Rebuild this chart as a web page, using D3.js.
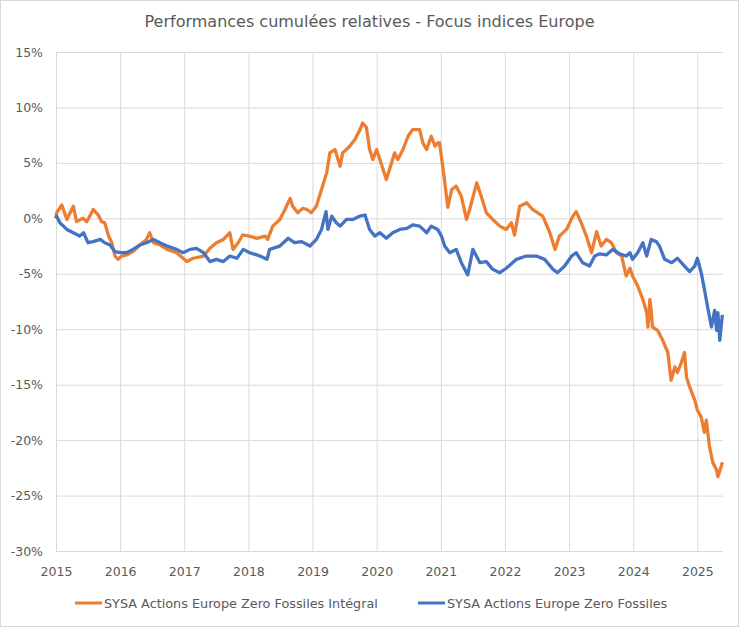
<!DOCTYPE html>
<html>
<head>
<meta charset="utf-8">
<script src="https://cdn.jsdelivr.net/npm/d3@7"></script>
<style>
  body { margin: 0; background: #fff; }
  svg { display: block; font-family: "DejaVu Sans", sans-serif; }
</style>
</head>
<body>
<div class="chart"></div>
<script>
// decimal years / cumulative relative performance in %
const integralYears = [2015.00,2015.01,2015.09,2015.17,2015.27,2015.32,2015.42,2015.48,2015.58,2015.66,2015.71,2015.76,2015.82,2015.87,2015.92,2015.97,
  2016.02,2016.10,2016.20,2016.31,2016.41,2016.46,2016.52,2016.62,2016.73,2016.88,2017.04,2017.14,2017.30,2017.40,2017.50,2017.61,2017.71,2017.76,2017.84,2017.91,
  2018.01,2018.13,2018.26,2018.30,2018.38,2018.49,2018.57,2018.65,2018.69,2018.77,2018.85,2018.91,2018.98,2019.06,2019.14,2019.22,2019.27,2019.35,2019.43,2019.47,
  2019.58,2019.66,2019.74,2019.78,2019.84,2019.89,2019.94,2020.00,2020.05,2020.15,2020.20,2020.28,2020.33,2020.41,2020.49,2020.56,2020.67,2020.72,2020.78,2020.85,
  2020.91,2020.95,2020.98,2021.03,2021.11,2021.17,2021.24,2021.32,2021.40,2021.45,2021.56,2021.63,2021.71,2021.81,2021.92,2022.02,2022.10,2022.15,2022.23,2022.34,
  2022.43,2022.59,2022.70,2022.78,2022.85,2022.96,2023.06,2023.11,2023.19,2023.27,2023.35,2023.43,2023.50,2023.58,2023.66,2023.74,2023.82,2023.89,2023.95,2023.99,
  2024.07,2024.15,2024.21,2024.23,2024.26,2024.28,2024.30,2024.38,2024.46,2024.54,2024.59,2024.65,2024.69,2024.75,2024.80,2024.83,2024.88,2024.96,2025.00,2025.06,
  2025.11,2025.14,2025.19,2025.24,2025.30,2025.32,2025.37,2025.39];
const integralValues = [0.0,0.5,1.2,-0.1,1.1,-0.3,0.0,-0.3,0.8,0.3,-0.3,-0.4,-1.6,-2.2,-3.4,-3.7,
  -3.4,-3.3,-3.0,-2.4,-1.9,-1.3,-2.2,-2.4,-2.8,-3.1,-3.9,-3.6,-3.4,-2.7,-2.2,-1.9,-1.3,-2.8,-2.2,-1.5,
  -1.6,-1.8,-1.6,-1.9,-0.7,-0.1,0.8,1.8,1.1,0.5,0.9,0.8,0.5,1.1,2.6,4.1,5.9,6.2,4.7,5.9,
  6.5,7.1,8.0,8.6,8.2,6.2,5.3,6.2,5.3,3.5,4.4,5.9,5.3,6.2,7.4,8.0,8.0,6.8,6.2,7.4,
  6.5,6.8,6.8,4.7,1.0,2.6,2.9,2.0,-0.1,0.8,3.2,2.0,0.5,-0.1,-0.7,-1.0,-0.4,-1.5,1.1,1.4,
  0.8,0.2,-1.3,-2.8,-1.6,-1.0,0.2,0.6,-0.4,-1.6,-3.1,-1.2,-2.5,-1.9,-2.2,-3.1,-3.4,-5.2,-4.5,-5.2,
  -6.1,-7.3,-8.5,-9.8,-7.3,-8.3,-9.8,-10.1,-11.0,-12.1,-14.6,-13.4,-13.9,-13.0,-12.1,-14.3,-15.2,-16.4,-17.3,-17.9,
  -19.3,-18.2,-20.6,-22.0,-22.7,-23.3,-22.4,-22.0];

const fossilesYears = [2015.00,2015.01,2015.06,2015.17,2015.27,2015.37,2015.43,2015.50,2015.58,2015.69,2015.76,2015.84,2015.92,
  2016.00,2016.10,2016.20,2016.31,2016.41,2016.52,2016.62,2016.73,2016.88,2016.98,2017.09,2017.19,2017.30,2017.40,2017.50,2017.61,2017.71,2017.82,2017.92,
  2018.02,2018.13,2018.18,2018.29,2018.33,2018.49,2018.62,2018.72,2018.83,2018.96,2019.06,2019.14,2019.21,2019.24,2019.30,2019.37,2019.43,2019.53,2019.63,2019.74,
  2019.82,2019.84,2019.89,2019.97,2020.05,2020.15,2020.25,2020.36,2020.47,2020.56,2020.67,2020.78,2020.85,2020.95,2021.01,2021.06,2021.14,2021.24,2021.32,2021.42,
  2021.50,2021.61,2021.71,2021.81,2021.92,2022.02,2022.18,2022.33,2022.49,2022.62,2022.75,2022.82,2022.93,2023.04,2023.11,2023.21,2023.32,2023.40,2023.48,2023.58,
  2023.68,2023.79,2023.89,2023.95,2023.99,2024.07,2024.15,2024.21,2024.28,2024.36,2024.41,2024.49,2024.60,2024.69,2024.80,2024.88,2024.96,2025.00,2025.06,2025.11,
  2025.16,2025.22,2025.27,2025.30,2025.32,2025.35,2025.37,2025.39];
const fossilesValues = [0.0,0.2,-0.4,-1.0,-1.3,-1.6,-1.3,-2.2,-2.1,-1.9,-2.2,-2.4,-3.0,
  -3.1,-3.1,-2.8,-2.4,-2.2,-1.9,-2.2,-2.5,-2.8,-3.1,-2.8,-2.7,-3.1,-3.9,-3.7,-3.9,-3.4,-3.6,-2.8,
  -3.1,-3.3,-3.4,-3.7,-2.8,-2.5,-1.8,-2.2,-2.1,-2.5,-1.9,-1.0,0.6,-1.0,0.2,-0.4,-0.7,-0.1,-0.1,0.2,
  0.3,-0.1,-1.0,-1.6,-1.3,-1.8,-1.3,-1.0,-0.9,-0.6,-0.7,-1.3,-0.7,-1.0,-1.6,-2.5,-3.1,-2.8,-4.0,-5.1,
  -2.8,-4.0,-3.9,-4.6,-4.9,-4.5,-3.7,-3.4,-3.4,-3.7,-4.6,-4.9,-4.3,-3.4,-3.1,-4.0,-4.3,-3.4,-3.2,-3.3,
  -2.8,-3.2,-3.4,-3.1,-3.7,-3.1,-2.2,-3.4,-1.9,-2.1,-2.5,-3.7,-4.0,-3.6,-4.3,-4.8,-4.3,-3.6,-4.9,-6.4,
  -8.0,-9.8,-8.3,-10.1,-8.5,-11.0,-9.8,-8.7];

const yearTicks = [2015,2016,2017,2018,2019,2020,2021,2022,2023,2024,2025];
const pctTicks = [15,10,5,0,-5,-10,-15,-20,-25,-30];
const seriesNames = ["SYSA Actions Europe Zero Fossiles Intégral", "SYSA Actions Europe Zero Fossiles"];
const seriesColors = ["#ED7D31", "#4472C4"];

const W = 739, H = 627;
const margin = {top: 52, right: 16, bottom: 76, left: 56};
const innerW = W - margin.left - margin.right;
const innerH = H - margin.top - margin.bottom;

const svg = d3.select(".chart").append("svg").attr("width", W).attr("height", H);

svg.append("rect").attr("x", 0.5).attr("y", 0.5).attr("width", W - 1).attr("height", H - 1)
   .attr("fill", "#fff").attr("stroke", "#d9d9d9");

svg.append("text").attr("x", W / 2).attr("y", 27).attr("text-anchor", "middle")
   .style("font-size", "16px").attr("fill", "#595959")
   .text("Performances cumulées relatives - Focus indices Europe");

const x = d3.scaleLinear().domain([2015, 2025.4]).range([0, innerW]);
const y = d3.scaleLinear().domain([-30, 15]).range([innerH, 0]);

const g = svg.append("g").attr("transform", `translate(${margin.left},${margin.top})`);

// horizontal grid + y labels
const yAxis = g.append("g").call(d3.axisLeft(y).tickValues(pctTicks).tickSize(-innerW).tickPadding(13).tickFormat(d => d + "%"));
yAxis.select(".domain").remove();
yAxis.selectAll("line").attr("stroke", "#d9d9d9");
yAxis.selectAll("text").style("font-size", "12.5px").attr("fill", "#595959").attr("font-family", "DejaVu Sans");

// vertical grid + x labels
const xAxis = g.append("g").attr("transform", `translate(0,${innerH})`)
   .call(d3.axisBottom(x).tickValues(yearTicks).tickSize(-innerH).tickPadding(16).tickFormat(d3.format("d")));
xAxis.select(".domain").remove();
xAxis.selectAll("line").attr("stroke", "#d9d9d9");
xAxis.selectAll("text").style("font-size", "12.5px").attr("fill", "#595959").attr("font-family", "DejaVu Sans");

const line = d3.line().x(d => x(d[0])).y(d => y(d[1]));
const series = [
  d3.zip(integralYears, integralValues),
  d3.zip(fossilesYears, fossilesValues)
];
g.selectAll(".series").data(series).join("path").classed("series", true)
   .attr("d", line).attr("fill", "none")
   .attr("stroke", (d, i) => seriesColors[i]).attr("stroke-width", 3.3)
   .attr("stroke-linejoin", "round");

// legend
const legendX = [75, 418];
const legend = svg.selectAll(".legend").data(seriesNames).join("g").classed("legend", true)
   .attr("transform", (d, i) => `translate(${legendX[i]},603)`);
legend.append("line").attr("x1", 0).attr("x2", 27).attr("y1", 0).attr("y2", 0)
   .attr("stroke", (d, i) => seriesColors[i]).attr("stroke-width", 3);
legend.append("text").attr("x", 29).attr("y", 4.5).style("font-size", "12.8px").attr("fill", "#595959").text(d => d);
</script>
</body>
</html>
